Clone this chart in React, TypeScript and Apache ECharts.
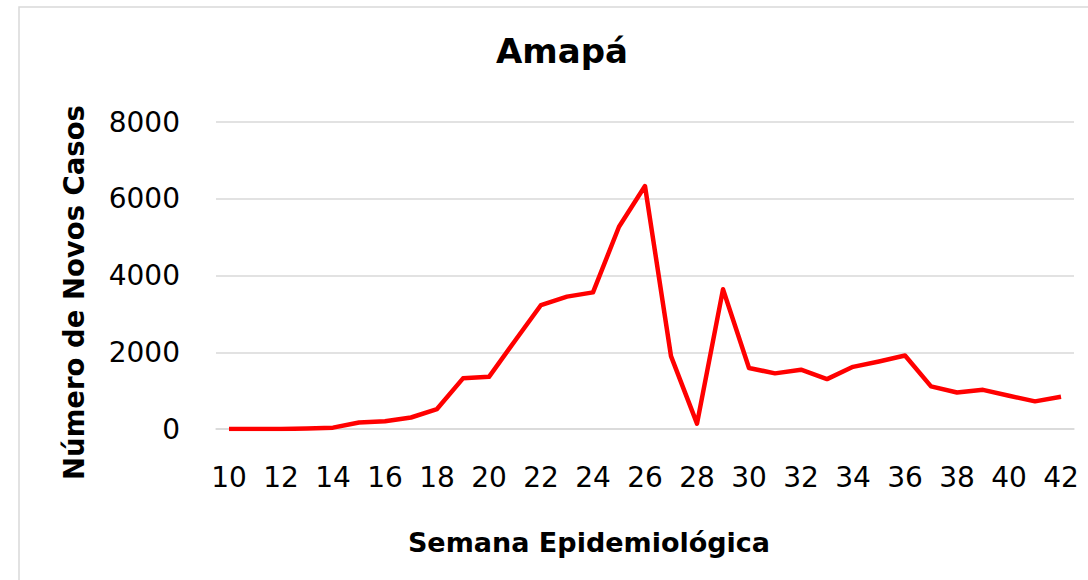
import React, { useEffect, useRef } from "react";
import * as echarts from "echarts";

const weeks: string[] = [
  "10", "11", "12", "13", "14", "15", "16", "17", "18", "19", "20",
  "21", "22", "23", "24", "25", "26", "27", "28", "29", "30", "31",
  "32", "33", "34", "35", "36", "37", "38", "39", "40", "41", "42",
];

const newCases: number[] = [
  0, 0, 0, 15, 35, 170, 200, 300, 520, 1320, 1360,
  2300, 3230, 3450, 3560, 5270, 6330, 1900, 140, 3640, 1590, 1450,
  1545, 1300, 1620, 1760, 1915, 1110, 950, 1020, 865, 720, 840,
];

const titleText = "Amapá";
const xAxisTitle = "Semana Epidemiológica";
const yAxisTitle = "Número de Novos Casos";

const FONT = "'DejaVu Sans', sans-serif";

export default function App() {
  const ref = useRef<HTMLDivElement>(null);

  useEffect(() => {
    if (!ref.current) return;
    const chart = echarts.init(ref.current, undefined, { renderer: "svg" });
    chart.setOption({
      animation: false,
      backgroundColor: "#ffffff",
      title: {
        text: titleText,
        left: 562,
        top: 34,
        textAlign: "center",
        padding: 0,
        textStyle: {
          fontFamily: FONT,
          fontWeight: "bold",
          fontSize: 34,
          color: "#000000",
        },
      },
      graphic: [
        {
          type: "rect",
          z: -10,
          silent: true,
          shape: { x: 19, y: 7, width: 1200, height: 700 },
          style: { fill: "none", stroke: "#d9d9d9", lineWidth: 1.5 },
        },
      ],
      grid: {
        left: 216,
        right: 14,
        top: 122,
        bottom: 151,
        containLabel: false,
      },
      xAxis: {
        type: "category",
        data: weeks,
        boundaryGap: true,
        name: xAxisTitle,
        nameLocation: "middle",
        nameGap: 100,
        nameTextStyle: {
          fontFamily: FONT,
          fontWeight: "bold",
          fontSize: 27,
          color: "#000000",
          padding: [0, 112, 0, 0],
        },
        axisLine: { show: true, lineStyle: { color: "#d9d9d9", width: 1.5 } },
        axisTick: { show: false },
        axisLabel: {
          interval: 1,
          margin: 34,
          fontFamily: FONT,
          fontSize: 28,
          color: "#000000",
        },
        splitLine: { show: false },
      },
      yAxis: {
        type: "value",
        min: 0,
        max: 8000,
        interval: 2000,
        name: yAxisTitle,
        nameLocation: "middle",
        nameGap: 128,
        nameTextStyle: {
          fontFamily: FONT,
          fontWeight: "bold",
          fontSize: 27.5,
          color: "#000000",
          padding: [0, 34, 0, 0],
        },
        axisLine: { show: false },
        axisTick: { show: false },
        axisLabel: {
          margin: 36,
          fontFamily: FONT,
          fontSize: 28,
          color: "#000000",
          formatter: (v: number) => String(v),
        },
        splitLine: { show: true, lineStyle: { color: "#d9d9d9", width: 1.5 } },
      },
      series: [
        {
          type: "line",
          data: newCases,
          showSymbol: false,
          symbol: "none",
          lineStyle: { color: "#ff0000", width: 4.5, join: "round" },
          itemStyle: { color: "#ff0000" },
        },
      ],
    });
    return () => chart.dispose();
  }, []);

  return (
    <div
      ref={ref}
      style={{ position: "fixed", left: 0, top: 0, width: 1088, height: 580 }}
    />
  );
}
